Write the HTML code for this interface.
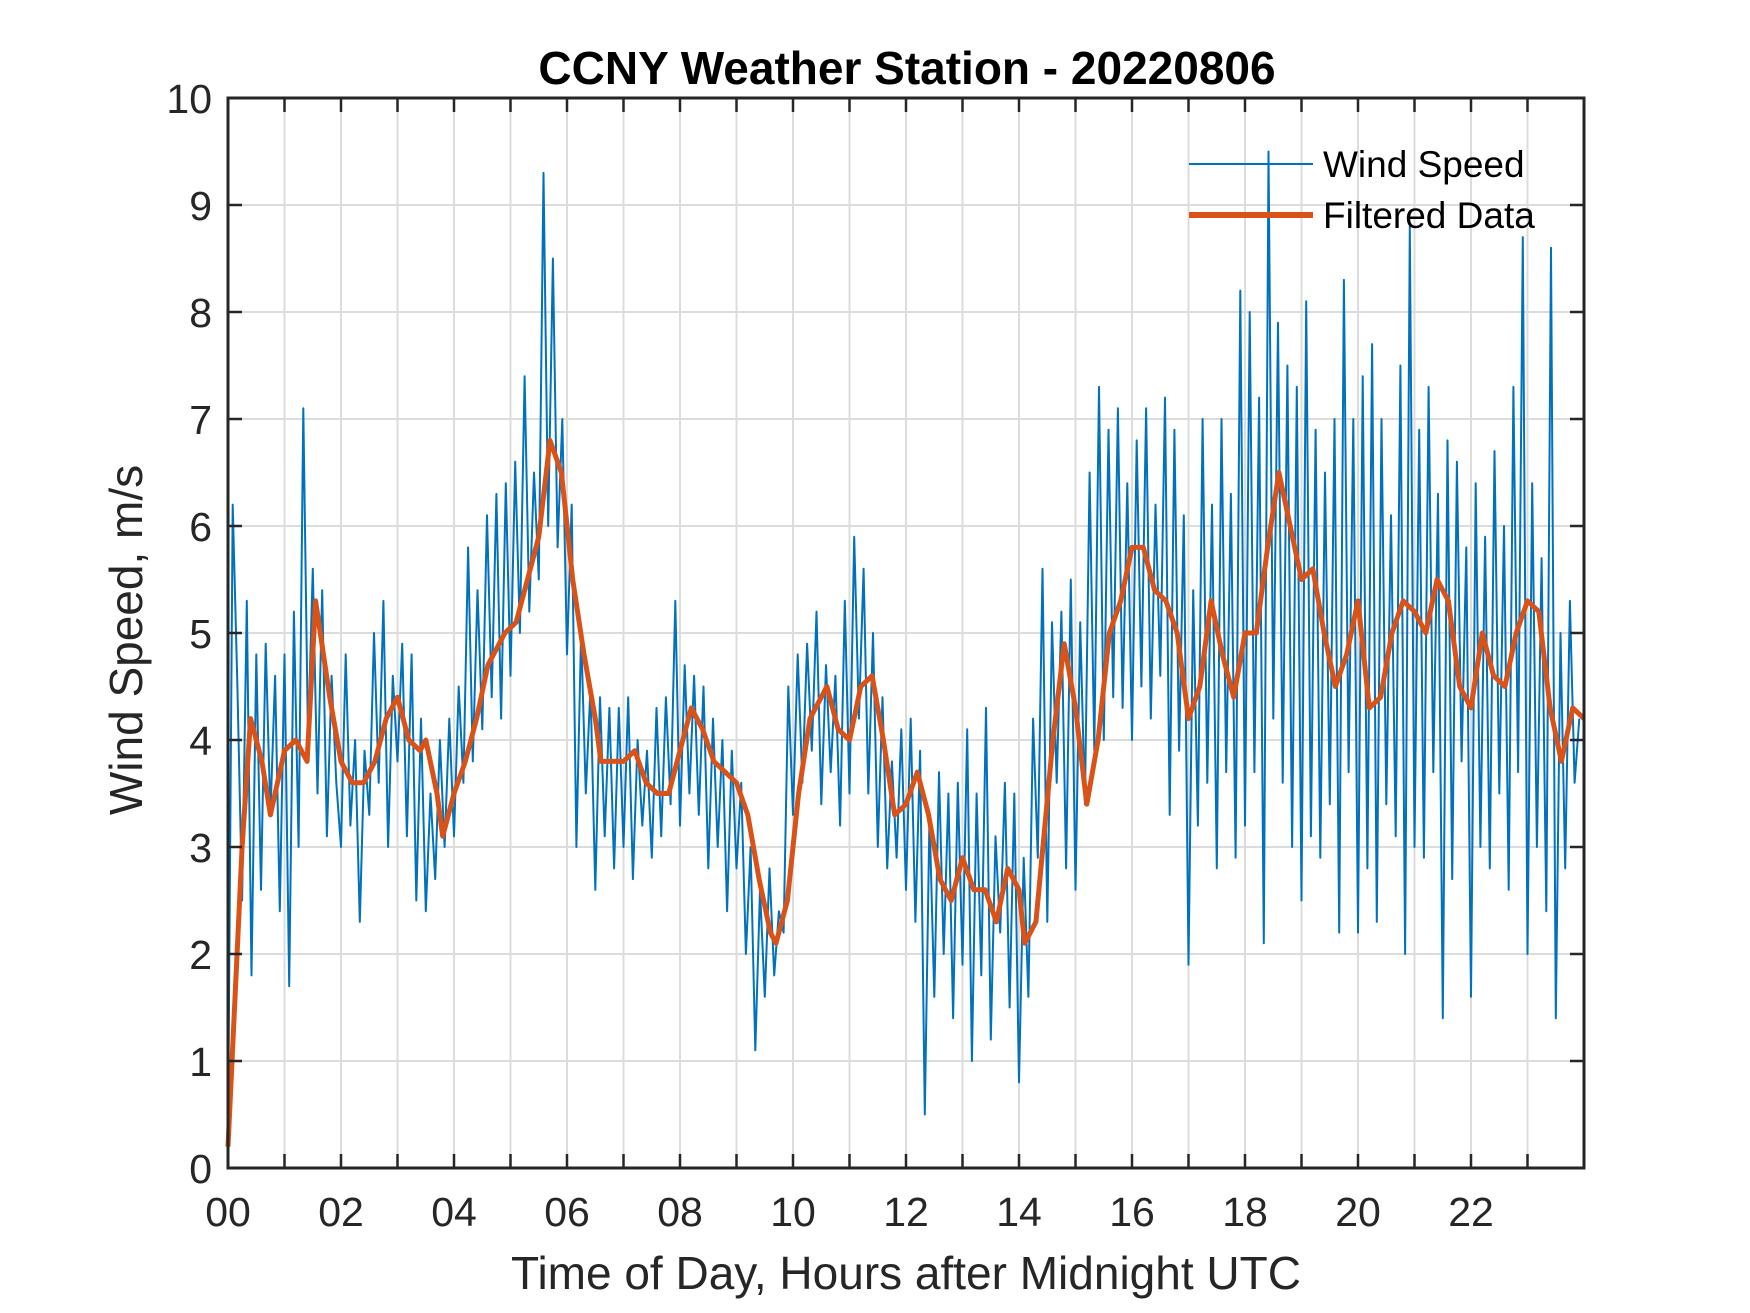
<!DOCTYPE html>
<html><head><meta charset="utf-8"><style>
html,body{margin:0;padding:0;background:#fff}
svg{display:block}
text{font-family:"Liberation Sans",Arial,sans-serif;fill:#262626}
</style></head><body>
<svg id="chart" width="1750" height="1313" viewBox="0 0 1750 1313" xmlns="http://www.w3.org/2000/svg">
<rect width="1750" height="1313" fill="#fff"/>
<text x="907" y="84" text-anchor="middle" font-size="46" font-weight="bold" style="fill:#000">CCNY Weather Station - 20220806</text>
<g id="grid"></g>
<g id="series"></g>
<g id="axes"></g>
<text x="906" y="1289" text-anchor="middle" font-size="46">Time of Day, Hours after Midnight UTC</text>
<text transform="translate(142,640) rotate(-90)" text-anchor="middle" font-size="46">Wind Speed, m/s</text>
<g>
<line x1="1189" y1="164" x2="1313" y2="164" stroke="#0072BD" stroke-width="2"/>
<text x="1323" y="177" font-size="37" style="fill:#000">Wind Speed</text>
<line x1="1189" y1="215" x2="1313" y2="215" stroke="#D95319" stroke-width="6"/>
<text x="1323" y="228" font-size="37" style="fill:#000">Filtered Data</text>
</g>
</svg>
<script>
const xTickLabels=["00","02","04","06","08","10","12","14","16","18","20","22"];
const yTickLabels=["0","1","2","3","4","5","6","7","8","9","10"];
const rawSpeed=[
0.3,6.2,4.5,2.5,5.3,1.8,4.8,2.6,4.9,3.3,4.6,2.4,
4.8,1.7,5.2,3.0,7.1,4.0,5.6,3.5,5.4,3.1,4.6,3.6,
3.0,4.8,3.2,4.0,2.3,3.9,3.3,5.0,3.6,5.3,3.0,4.6,
3.8,4.9,3.1,4.8,2.5,4.2,2.4,3.5,2.7,4.0,3.0,4.2,
3.1,4.5,3.6,5.8,3.8,5.4,4.1,6.1,4.4,6.3,4.2,6.4,
4.6,6.6,5.0,7.4,5.2,6.5,5.5,9.3,6.0,8.5,5.8,7.0,
4.8,6.2,3.0,5.0,3.5,4.5,2.6,4.4,3.1,4.3,2.8,4.3,
3.0,4.4,2.7,4.0,3.2,3.9,2.9,4.3,3.1,4.4,3.4,5.3,
3.2,4.7,3.5,4.6,3.3,4.5,2.8,4.2,3.0,4.0,2.4,3.9,
2.8,3.6,2.0,3.0,1.1,2.6,1.6,2.8,1.8,2.4,2.2,4.5,
3.3,4.8,3.6,4.9,3.9,5.2,3.4,4.7,3.7,4.6,3.2,5.3,
3.5,5.9,4.2,5.6,3.5,5.0,3.0,4.4,2.8,3.8,2.9,4.1,
2.6,4.2,2.3,3.9,0.5,3.3,1.6,3.7,2.0,3.5,1.4,3.6,
1.9,4.1,1.0,3.5,1.8,4.3,1.2,3.1,2.2,3.6,1.5,3.5,
0.8,2.9,1.6,4.2,2.9,5.6,2.3,5.1,3.6,5.2,2.8,5.5,
2.6,5.1,3.4,6.5,3.9,7.3,4.0,6.9,4.4,7.1,4.3,6.4,
4.0,6.8,4.5,7.1,4.2,6.2,4.6,7.2,3.3,6.9,3.9,6.1,
1.9,5.4,3.2,7.0,3.6,6.2,2.8,7.0,3.7,6.3,2.9,8.2,
3.2,8.0,3.7,7.2,2.1,9.5,4.2,7.9,3.6,7.5,3.0,7.3,
2.5,8.1,3.1,6.9,2.9,6.5,3.4,7.0,2.2,8.3,3.7,7.0,
2.2,7.4,2.8,7.7,2.3,7.0,3.4,6.1,3.1,7.5,2.0,8.8,
3.0,6.9,2.9,7.3,3.7,6.3,1.4,6.8,2.7,6.6,3.8,5.8,
1.6,6.4,3.0,5.9,2.8,6.7,3.5,6.0,2.6,7.3,3.7,8.7,
2.0,6.4,3.0,5.7,2.4,8.6,1.4,5.0,2.8,5.3,3.6,4.2];
const filtHours=[0,0.25,0.4,0.6,0.75,1.0,1.2,1.4,1.55,1.8,2.0,2.2,2.4,2.6,2.8,3.0,3.2,3.4,3.5,3.7,3.8,4.0,4.2,4.4,4.6,4.9,5.1,5.3,5.5,5.7,5.9,6.1,6.3,6.5,6.6,7.0,7.2,7.4,7.6,7.8,8.0,8.2,8.4,8.6,8.8,9.0,9.2,9.4,9.6,9.7,9.9,10.1,10.3,10.6,10.8,11.0,11.2,11.4,11.6,11.8,12.0,12.2,12.4,12.6,12.8,13.0,13.2,13.4,13.6,13.8,14.0,14.1,14.3,14.6,14.8,15.0,15.2,15.4,15.6,15.8,16.0,16.2,16.4,16.6,16.8,17.0,17.2,17.4,17.6,17.8,18.0,18.2,18.4,18.6,18.8,19.0,19.2,19.4,19.6,19.8,20.0,20.2,20.4,20.6,20.8,21.0,21.2,21.4,21.6,21.8,22.0,22.2,22.4,22.6,22.8,23.0,23.2,23.4,23.6,23.8,24.0];
const filtSpeed=[0.2,3.0,4.2,3.8,3.3,3.9,4.0,3.8,5.3,4.4,3.8,3.6,3.6,3.8,4.2,4.4,4.0,3.9,4.0,3.5,3.1,3.5,3.8,4.2,4.7,5.0,5.1,5.5,5.9,6.8,6.5,5.5,4.8,4.2,3.8,3.8,3.9,3.6,3.5,3.5,3.9,4.3,4.1,3.8,3.7,3.6,3.3,2.7,2.2,2.1,2.5,3.5,4.2,4.5,4.1,4.0,4.5,4.6,4.0,3.3,3.4,3.7,3.3,2.7,2.5,2.9,2.6,2.6,2.3,2.8,2.6,2.1,2.3,4.0,4.9,4.3,3.4,4.0,5.0,5.3,5.8,5.8,5.4,5.3,5.0,4.2,4.5,5.3,4.8,4.4,5.0,5.0,5.8,6.5,6.0,5.5,5.6,5.0,4.5,4.8,5.3,4.3,4.4,5.0,5.3,5.2,5.0,5.5,5.3,4.5,4.3,5.0,4.6,4.5,5.0,5.3,5.2,4.3,3.8,4.3,4.2];

const L=228,R=1584,T=98,B=1168,XMAX=24,YMAX=10;
const sx=h=>L+(R-L)*h/XMAX, sy=v=>B-(B-T)*v/YMAX;
const NS="http://www.w3.org/2000/svg";
function mk(tag,parent,attrs){const e=document.createElementNS(NS,tag);for(const k in attrs)e.setAttribute(k,attrs[k]);parent.appendChild(e);return e;}
const grid=document.getElementById('grid'),series=document.getElementById('series'),axes=document.getElementById('axes');
for(let h=1;h<XMAX;h++){const g=mk('line',grid,{x1:sx(h),x2:sx(h),y1:T,y2:B,stroke:'#dcdcdc','stroke-width':2});

}
for(let v=1;v<YMAX;v++){const g=mk('line',grid,{x1:L,x2:R,y1:sy(v),y2:sy(v),stroke:'#dcdcdc','stroke-width':2});

}
let d='';rawSpeed.forEach((v,i)=>{d+=(i?'L':'M')+sx(i*24/rawSpeed.length).toFixed(1)+','+sy(v).toFixed(1);});
const raw=mk('path',series,{d:d,fill:'none',stroke:'#0072BD','stroke-width':2,'stroke-linejoin':'round'});


let d2='';filtSpeed.forEach((v,i)=>{d2+=(i?'L':'M')+sx(filtHours[i]).toFixed(1)+','+sy(v).toFixed(1);});
const fl=mk('path',series,{d:d2,fill:'none',stroke:'#D95319','stroke-width':5,'stroke-linejoin':'round'});


for(let h=0;h<=XMAX;h++){
  const t1=mk('line',axes,{x1:sx(h),x2:sx(h),y1:B,y2:B-14,stroke:'#262626','stroke-width':2.5});
  
  
  const t2=mk('line',axes,{x1:sx(h),x2:sx(h),y1:T,y2:T+14,stroke:'#262626','stroke-width':2.5});
  
  
}
xTickLabels.forEach((s,i)=>{const t=mk('text',axes,{x:sx(i*2),y:B+58,'text-anchor':'middle','font-size':41});t.textContent=s;

});
yTickLabels.forEach((s,i)=>{
  const a=mk('line',axes,{x1:L,x2:L+14,y1:sy(i),y2:sy(i),stroke:'#262626','stroke-width':2.5});
  
  
  const b=mk('line',axes,{x1:R,x2:R-14,y1:sy(i),y2:sy(i),stroke:'#262626','stroke-width':2.5});
  
  
  const t=mk('text',axes,{x:L-16,y:sy(i)+15,'text-anchor':'end','font-size':41});t.textContent=s;
  
  
});
const box=mk('rect',axes,{x:L,y:T,width:R-L,height:B-T,fill:'none',stroke:'#262626','stroke-width':3});


</script>
</body></html>
